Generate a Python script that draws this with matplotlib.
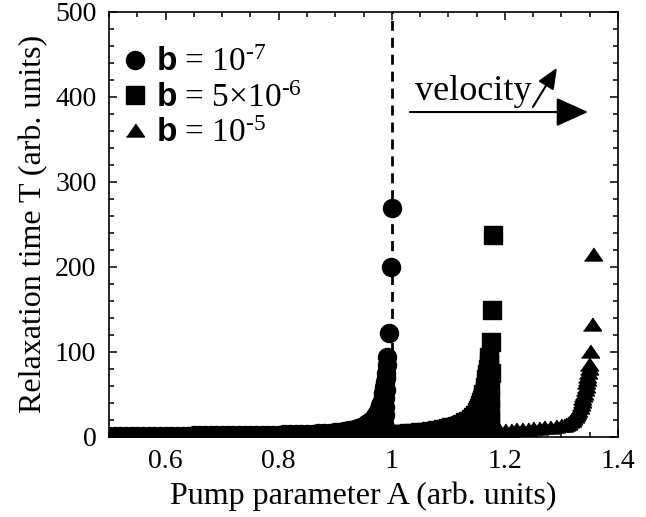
import matplotlib
matplotlib.use("Agg")
import matplotlib.pyplot as plt
from matplotlib.ticker import MultipleLocator, FixedLocator, FixedFormatter

plt.rcParams['font.family'] = ['Liberation Serif', 'DejaVu Serif']
plt.rcParams['mathtext.fontset'] = 'custom'
plt.rcParams['mathtext.rm'] = 'Liberation Serif'
plt.rcParams['mathtext.it'] = 'Liberation Serif:italic'
plt.rcParams['mathtext.bf'] = 'Liberation Sans:bold'

# b = 1e-7 (circles)
A_c = [0.50, 0.51, 0.52, 0.53, 0.54, 0.55, 0.56, 0.57, 0.58, 0.59, 0.60, 0.61,
       0.62, 0.63, 0.64, 0.65, 0.66, 0.67, 0.68, 0.69, 0.70, 0.71, 0.72, 0.73,
       0.74, 0.75, 0.76, 0.77, 0.78, 0.79, 0.80, 0.81, 0.82, 0.83, 0.84, 0.85,
       0.86, 0.87, 0.88, 0.89, 0.90, 0.905, 0.91, 0.915, 0.92, 0.925, 0.93,
       0.935, 0.94, 0.945, 0.95, 0.955, 0.96, 0.963, 0.965, 0.968, 0.97, 0.972,
       0.974, 0.976, 0.977, 0.979, 0.980, 0.982, 0.984, 0.985, 0.986, 0.987,
       0.988, 0.989, 0.990, 0.991, 0.992, 0.9955, 0.9985, 0.9998,
       0.986, 0.987, 0.9875, 0.988, 0.9885, 0.989]
T_c = [1.0, 1.0, 1.0, 1.05, 1.1, 1.1, 1.1, 1.15, 1.2, 1.2, 1.2, 1.25,
       1.3, 1.35, 1.4, 1.45, 1.5, 1.55, 1.6, 1.65, 1.7, 1.75, 1.8, 1.9,
       2.0, 2.05, 2.1, 2.2, 2.3, 2.4, 2.5, 2.65, 2.8, 3.0, 3.2, 3.4,
       3.7, 4.0, 4.4, 4.8, 5.3, 5.6, 6.0, 6.5, 7.0, 7.6, 8.3,
       9.1, 10, 11.2, 12.5, 14.5, 17, 18.5, 20, 22, 24, 26,
       28, 30.5, 32, 35, 37, 42, 48, 51, 55, 59,
       64, 69, 75, 84, 94, 122, 200, 269,
       8, 15, 25, 35, 45, 55]

# b = 5e-6 (squares)
A_s = [0.80, 0.81, 0.82, 0.83, 0.84, 0.85, 0.86, 0.87, 0.88, 0.89, 0.90, 0.91,
       0.92, 0.93, 0.94, 0.95, 0.96, 0.97, 0.98, 0.99, 1.00, 1.01, 1.02, 1.03,
       1.04, 1.05, 1.06, 1.07, 1.08, 1.09, 1.10, 1.105, 1.11, 1.115, 1.12, 1.125,
       1.13, 1.135, 1.14, 1.144, 1.147, 1.150, 1.152, 1.154, 1.156, 1.158, 1.159,
       1.161, 1.162, 1.164, 1.165, 1.167, 1.1685, 1.170, 1.1715, 1.1727, 1.1754,
       1.1777, 1.1795,
       1.1735, 1.174, 1.174, 1.1745, 1.1745, 1.175]
T_s = [1.2, 1.25, 1.3, 1.35, 1.4, 1.45, 1.5, 1.55, 1.6, 1.65, 1.7, 1.8,
       1.9, 2.0, 2.1, 2.2, 2.4, 2.5, 2.7, 2.85, 3.0, 3.2, 3.5, 4.0,
       4.5, 5.0, 5.5, 6.5, 7.5, 8.7, 10, 11, 12, 13, 14, 15.5,
       17, 19, 21, 23.5, 26, 28.5, 31, 34, 37, 41, 43,
       47, 50, 54, 58, 68, 74, 80, 87, 94, 111,
       149, 237,
       10, 20, 32, 45, 60, 75]

# b = 1e-5 (triangles)
A_t = [1.00, 1.01, 1.02, 1.03, 1.04, 1.05, 1.06, 1.07, 1.08, 1.09, 1.10, 1.11,
       1.12, 1.13, 1.14, 1.15, 1.16, 1.17, 1.18, 1.19, 1.20, 1.21, 1.22, 1.23,
       1.24, 1.25, 1.26, 1.27, 1.28, 1.29, 1.30, 1.304, 1.308, 1.312, 1.315,
       1.318, 1.321, 1.324, 1.326, 1.328, 1.330, 1.332, 1.334, 1.3355, 1.337,
       1.3385, 1.340, 1.341, 1.3425, 1.344, 1.345, 1.346, 1.347, 1.348, 1.349,
       1.3504, 1.3534, 1.3562]
T_t = [3.0, 3.2, 3.4, 3.6, 3.8, 4.0, 4.2, 4.4, 4.6, 4.8, 5.0, 5.2,
       5.5, 5.8, 6.0, 6.3, 6.6, 7.0, 7.3, 7.6, 8.0, 8.3, 8.7, 9.0,
       9.4, 10, 10.5, 11, 11.7, 12.4, 13.2, 14, 15, 16.5, 18,
       20, 22, 24.5, 27, 29.5, 32, 35, 38, 41.5, 45,
       48.5, 52, 56, 60, 64, 68, 72, 76, 81, 86,
       101, 133, 215]

labels = [r'$\mathbf{b}$ = 10$^{‐7}$', r'$\mathbf{b}$ = 5×10$^{‐6}$', r'$\mathbf{b}$ = 10$^{‐5}$']
x_ticks = [0.6, 0.8, 1.0, 1.2, 1.4]
x_tick_labels = ['0.6', '0.8', '1', '1.2', '1.4']

tri = [(-1, -0.72), (1, -0.72), (0, 0.72)]

fig = plt.figure(figsize=(6.46, 5.17), dpi=100)
ax = fig.add_axes([0.1687, 0.1553, 0.788, 0.822])

ax.plot([1.0, 1.0], [0, 500], color='k', lw=2, dashes=(3.6, 2.5), zorder=1)

ax.plot(A_t, T_t, ls='none', marker=tri, ms=13, color='k', label=labels[2], zorder=2)
ax.plot(A_s, T_s, ls='none', marker='s', ms=12.5, color='k', label=labels[1], zorder=3)
ax.plot(A_c, T_c, ls='none', marker='o', ms=13, color='k', label=labels[0], zorder=4)

ax.set_xlim(0.5, 1.4)
ax.set_ylim(0, 500)
ax.xaxis.set_major_locator(FixedLocator(x_ticks))
ax.xaxis.set_major_formatter(FixedFormatter(x_tick_labels))
ax.xaxis.set_minor_locator(MultipleLocator(0.05))
ax.yaxis.set_major_locator(MultipleLocator(100))
ax.yaxis.set_minor_locator(MultipleLocator(20))
ax.tick_params(which='both', direction='in', top=True, right=True, width=1.1, labelsize=20)
ax.tick_params(which='major', length=6, pad=9)
ax.tick_params(which='minor', length=3.5)
for s in ax.spines.values():
    s.set_linewidth(1.2)

ax.set_xlabel('Pump parameter A (arb. units)', fontsize=23, labelpad=5)
ax.set_ylabel('Relaxation time T (arb. units)', fontsize=23, labelpad=5)

h, l = ax.get_legend_handles_labels()
ax.legend(h[::-1], l[::-1], loc='upper left', bbox_to_anchor=(-0.012, 0.962), frameon=False,
          fontsize=24, handlelength=0.75, handletextpad=0.25, labelspacing=0.14,
          borderaxespad=0.2, numpoints=1)

# velocity arrows
ax.annotate('', xy=(1.347, 382), xytext=(1.032, 382),
            arrowprops=dict(arrowstyle='-|>,head_length=1.0,head_width=0.45',
                            mutation_scale=20, lw=1.5, color='k', shrinkA=0, shrinkB=0))
ax.annotate('', xy=(1.292, 434), xytext=(1.2496, 388),
            arrowprops=dict(arrowstyle='-|>,head_length=0.7,head_width=0.3',
                            mutation_scale=18, lw=1.5, color='k', shrinkA=0, shrinkB=0))
ax.text(1.041, 396, 'velocity', fontsize=26, va='baseline', ha='left')

fig.savefig('out.png', dpi=100)
